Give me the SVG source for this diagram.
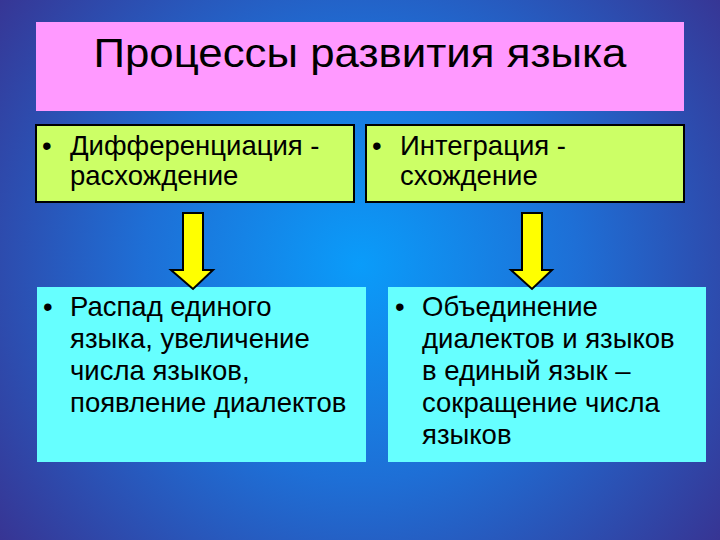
<svg xmlns="http://www.w3.org/2000/svg" width="720" height="540" viewBox="0 0 720 540">
<defs>
<radialGradient id="bg" cx="360" cy="265" r="480" gradientUnits="userSpaceOnUse">
<stop offset="0" stop-color="#0A9CFA"/>
<stop offset="0.45" stop-color="#1E6FD6"/>
<stop offset="1" stop-color="#3A2E8C"/>
</radialGradient>
<style>
.t{font-family:"Liberation Sans",Arial,sans-serif;fill:#000}
.b{font-size:27.5px}
.g{fill:#CCFF66;stroke:#000;stroke-width:2}
.c{fill:#66FFFF}
.arr{fill:#FFFF00;stroke:#000;stroke-width:2;stroke-linejoin:miter}
</style>
</defs>
<rect width="720" height="540" fill="url(#bg)"/>
<g id="title">
<rect x="36" y="22" width="648" height="89" fill="#FF99FF"/>
<text class="t" x="360" y="67" font-size="41" text-anchor="middle" textLength="533" lengthAdjust="spacingAndGlyphs">Процессы развития языка</text>
</g>
<g id="diff">
<rect class="g" x="36" y="125" width="318" height="77"/>
<text class="t b"><tspan x="42" y="155">•</tspan><tspan x="70" y="155">Дифференциация -</tspan><tspan x="70" y="185">расхождение</tspan></text>
</g>
<g id="integ">
<rect class="g" x="366" y="125" width="318" height="77"/>
<text class="t b"><tspan x="372" y="155">•</tspan><tspan x="400" y="155">Интеграция -</tspan><tspan x="400" y="185">схождение</tspan></text>
</g>
<g id="raspad">
<rect class="c" x="37" y="287" width="329" height="175"/>
<text class="t b"><tspan x="43" y="316">•</tspan><tspan x="70" y="316">Распад единого</tspan><tspan x="70" y="348">языка, увеличение</tspan><tspan x="70" y="380">числа языков,</tspan><tspan x="70" y="412">появление диалектов</tspan></text>
</g>
<g id="obed">
<rect class="c" x="388" y="287" width="318" height="175"/>
<text class="t b"><tspan x="395" y="316">•</tspan><tspan x="422" y="316">Объединение</tspan><tspan x="422" y="348">диалектов и языков</tspan><tspan x="422" y="380">в единый язык –</tspan><tspan x="422" y="412">сокращение числа</tspan><tspan x="422" y="444">языков</tspan></text>
</g>
<g id="connectors">
<polygon class="arr" points="183,213 203,213 203,270 213,270 193,289 171,270 183,270"/>
<polygon class="arr" points="522,213 542,213 542,270 552,270 532,289 511,270 522,270"/>
</g>
</svg>
